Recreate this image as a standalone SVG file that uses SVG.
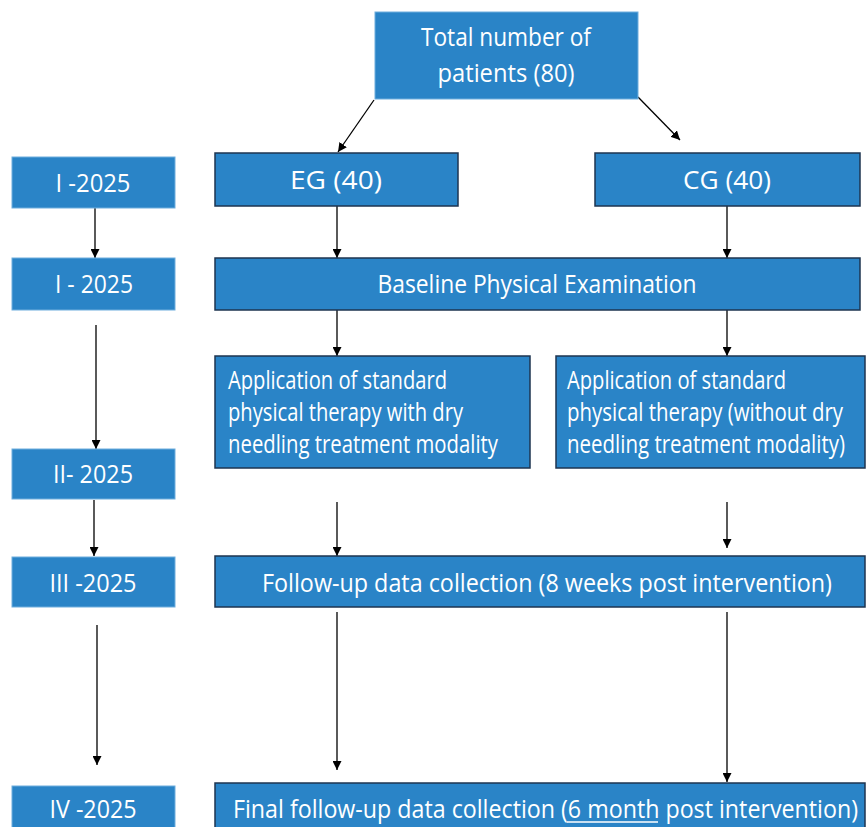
<svg xmlns="http://www.w3.org/2000/svg" width="866" height="827" viewBox="0 0 866 827">
<style>
.bx{fill:#2A84C7;stroke:#1E3550;stroke-width:1.5}
.lb{fill:#2A84C7;stroke:#6FAEDD;stroke-width:1}
.t{font-family:"Open Sans","Noto Sans",sans-serif;font-size:25.5px;fill:#FFFFFF}
.c{text-anchor:middle}
.ln{stroke:#000;stroke-width:1.3;fill:none;marker-end:url(#ah)}
</style>
<defs>
<marker id="ah" viewBox="0 0 10 10" refX="10" refY="5" markerWidth="9" markerHeight="9" markerUnits="userSpaceOnUse" orient="auto">
<path d="M0,0 L10,5 L0,10 z" fill="#000"/>
</marker>
</defs>
<rect width="866" height="827" fill="#FFFFFF"/>

<g id="connectors">
<line class="ln" x1="374" y1="100" x2="338" y2="152"/>
<line class="ln" x1="638" y1="97" x2="680" y2="140"/>
<line class="ln" x1="95" y1="208" x2="95" y2="258"/>
<line class="ln" x1="337" y1="206" x2="337" y2="258"/>
<line class="ln" x1="727" y1="206" x2="727" y2="258"/>
<line class="ln" x1="337" y1="310" x2="337" y2="356"/>
<line class="ln" x1="727" y1="310" x2="727" y2="356"/>
<line class="ln" x1="96" y1="325" x2="96" y2="449"/>
<line class="ln" x1="94" y1="500" x2="94" y2="556"/>
<line class="ln" x1="337" y1="502" x2="337" y2="556"/>
<line class="ln" x1="727" y1="502" x2="727" y2="548"/>
<line class="ln" x1="97" y1="625" x2="97" y2="765"/>
<line class="ln" x1="337" y1="612" x2="337" y2="770"/>
<line class="ln" x1="727" y1="612" x2="727" y2="782"/>
</g>

<g id="total">
<rect class="lb" x="375" y="12" width="263" height="87"/>
<text class="t c" x="506" y="46" textLength="170" lengthAdjust="spacingAndGlyphs">Total number of</text>
<text class="t c" x="506" y="82" textLength="137" lengthAdjust="spacingAndGlyphs">patients (80)</text>
</g>

<g id="eg">
<rect class="bx" x="215" y="153" width="243" height="53"/>
<text class="t c" x="336" y="189" textLength="92" lengthAdjust="spacingAndGlyphs">EG (40)</text>
</g>
<g id="cg">
<rect class="bx" x="595" y="153" width="265" height="53"/>
<text class="t c" x="727" y="189" textLength="88" lengthAdjust="spacingAndGlyphs">CG (40)</text>
</g>

<g id="d1">
<rect class="lb" x="12" y="157" width="163" height="51"/>
<text class="t c" x="93" y="192" textLength="75" lengthAdjust="spacingAndGlyphs">I -2025</text>
</g>
<g id="d2">
<rect class="lb" x="12" y="258" width="163" height="52"/>
<text class="t c" x="94" y="293" textLength="78" lengthAdjust="spacingAndGlyphs">I - 2025</text>
</g>
<g id="d3">
<rect class="lb" x="12" y="449" width="163" height="50"/>
<text class="t c" x="93" y="483" textLength="80" lengthAdjust="spacingAndGlyphs">II- 2025</text>
</g>
<g id="d4">
<rect class="lb" x="12" y="557" width="163" height="50"/>
<text class="t c" x="93" y="592" textLength="87" lengthAdjust="spacingAndGlyphs">III -2025</text>
</g>
<g id="d5">
<rect class="lb" x="12" y="786" width="163" height="50"/>
<text class="t c" x="93" y="818" textLength="87" lengthAdjust="spacingAndGlyphs">IV -2025</text>
</g>

<g id="baseline">
<rect class="bx" x="215" y="258" width="645" height="52"/>
<text class="t c" x="537" y="293" textLength="319" lengthAdjust="spacingAndGlyphs">Baseline Physical Examination</text>
</g>

<g id="appEG">
<rect class="bx" x="215" y="356" width="315" height="112"/>
<text class="t" x="228" y="389" textLength="219" lengthAdjust="spacingAndGlyphs">Application of standard</text>
<text class="t" x="228" y="421" textLength="235" lengthAdjust="spacingAndGlyphs">physical therapy with dry</text>
<text class="t" x="228" y="453" textLength="270" lengthAdjust="spacingAndGlyphs">needling treatment modality</text>
</g>
<g id="appCG">
<rect class="bx" x="556" y="356" width="309" height="112"/>
<text class="t" x="567" y="389" textLength="219" lengthAdjust="spacingAndGlyphs">Application of standard</text>
<text class="t" x="567" y="421" textLength="276" lengthAdjust="spacingAndGlyphs">physical therapy (without dry</text>
<text class="t" x="567" y="453" textLength="278" lengthAdjust="spacingAndGlyphs">needling treatment modality)</text>
</g>

<g id="followup">
<rect class="bx" x="215" y="556" width="650" height="51"/>
<text class="t c" x="547" y="592" textLength="570" lengthAdjust="spacingAndGlyphs">Follow-up data collection (8 weeks post intervention)</text>
</g>

<g id="final">
<rect class="bx" x="215" y="783" width="650" height="50"/>
<text class="t" x="233" y="818" textLength="625" lengthAdjust="spacingAndGlyphs">Final follow-up data collection (6 month post intervention)</text>
<line x1="567" y1="822" x2="658" y2="822" stroke="#FFFFFF" stroke-width="1.5"/>
</g>
</svg>
